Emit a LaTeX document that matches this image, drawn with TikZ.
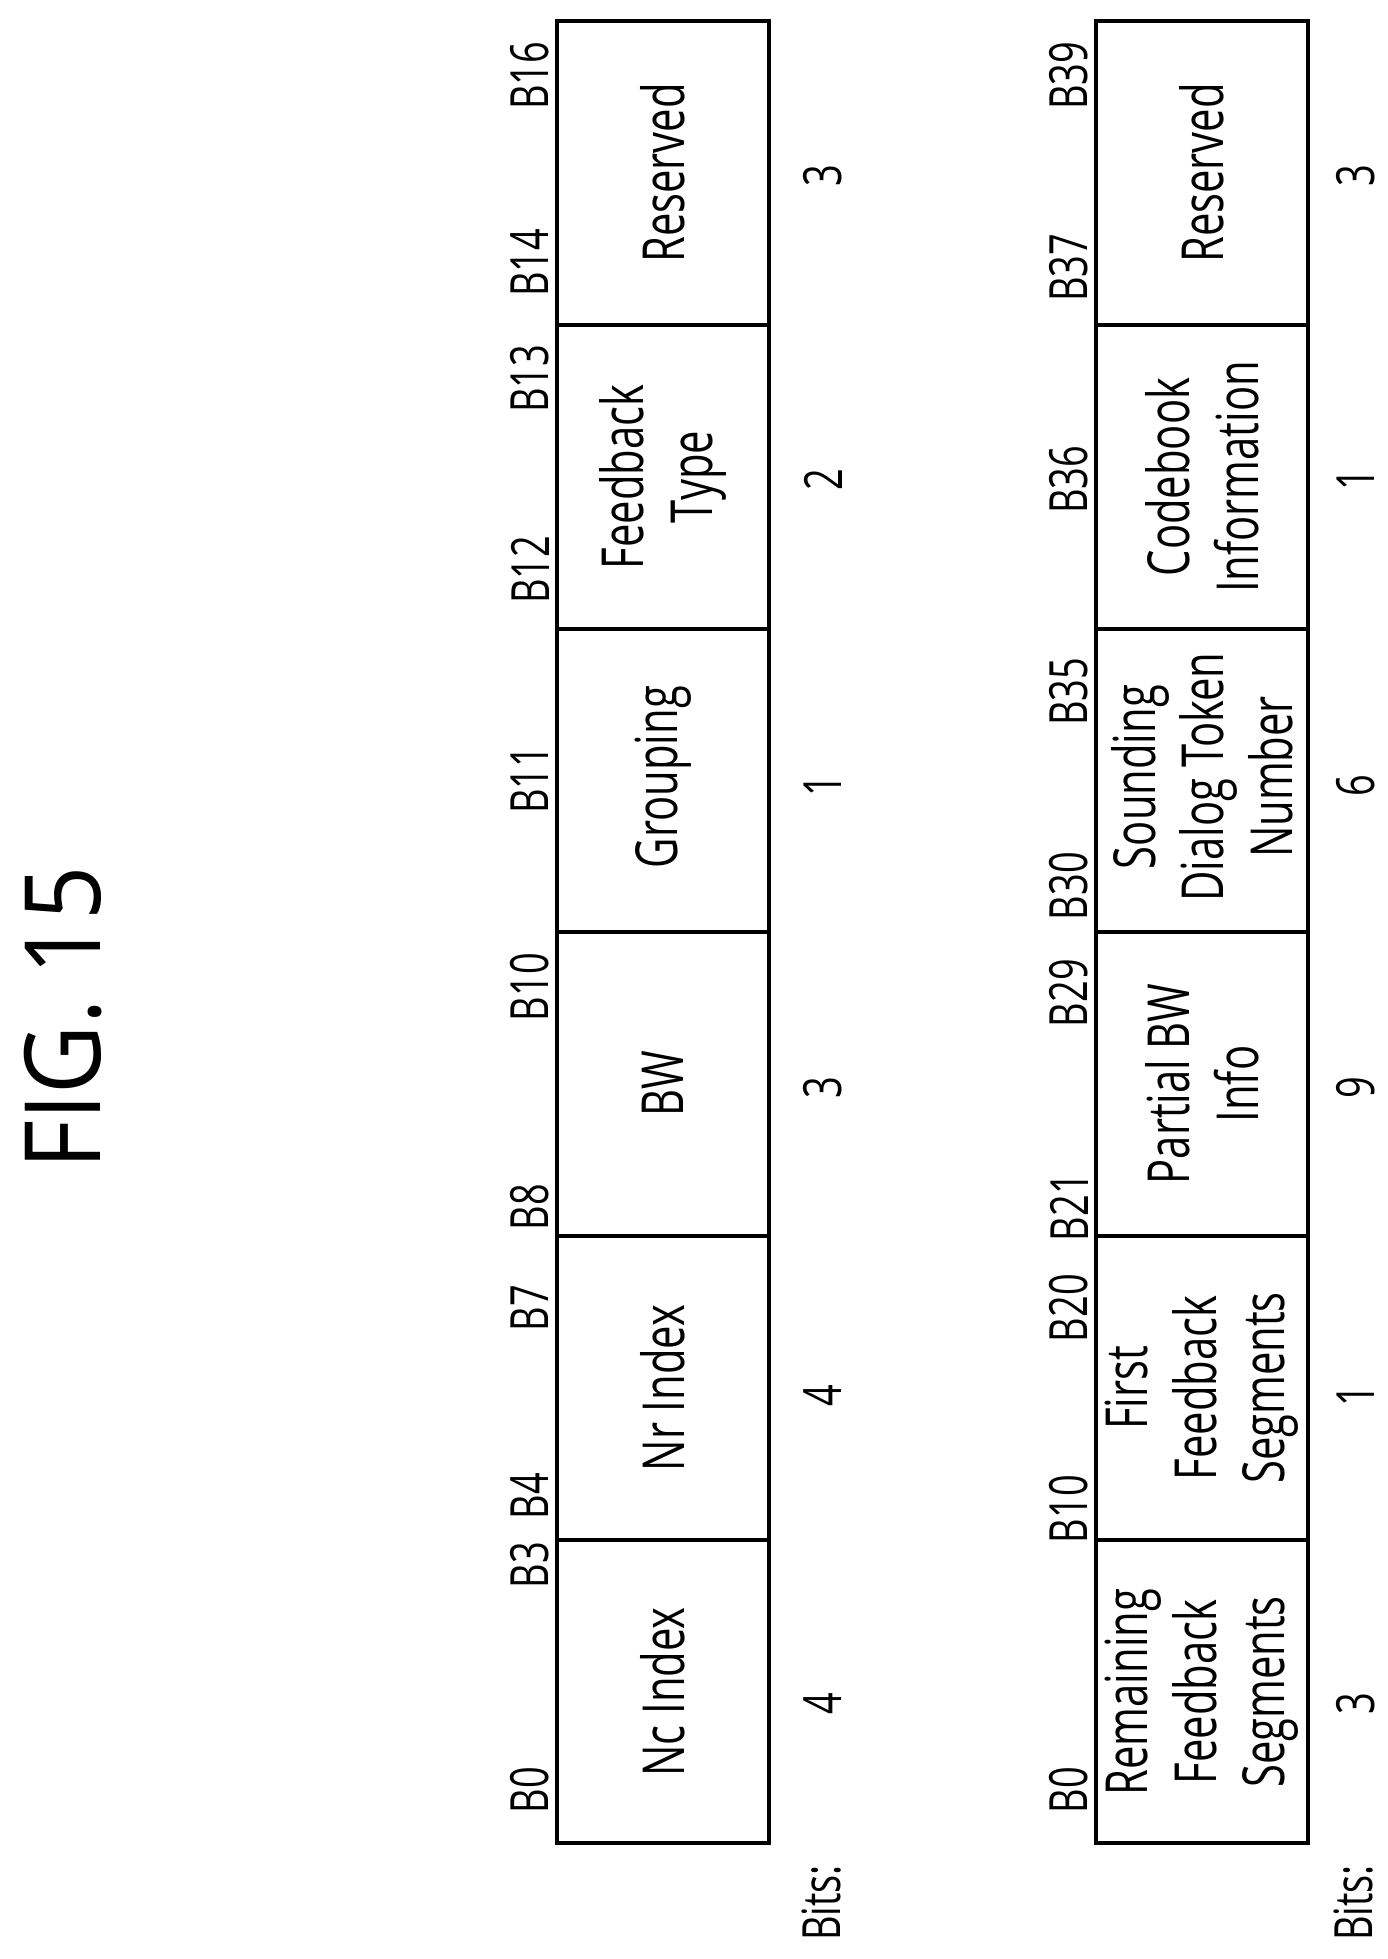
\documentclass[tikz,border=0pt]{standalone}
\usepackage{fontspec}
\setmainfont[FakeStretch=0.72]{Open Sans}
\newfontfamily\titlefont[FakeStretch=0.9]{Open Sans}
\usetikzlibrary{positioning}
\tikzset{
    %frame of a field table
    fieldbox/.style={draw=black, line width=2pt},
    %text inside a field
    field/.style={rotate=90, align=center, font=\fontsize{33}{39}\selectfont, inner sep=0pt},
    %bit labels and bit counts
    bitlbl/.style={rotate=90, font=\fontsize{30}{36}\selectfont, inner sep=0pt}
}
\begin{document}
\begin{tikzpicture}[x=0.02cm, y=-0.02cm]
\useasboundingbox (0,0) rectangle (1388,1959);
\node[rotate=90, font=\titlefont\fontsize{60}{72}\selectfont] (title) at (63,1018) {FIG. 15};

% first table
\draw[fieldbox] (557,21) rectangle (769,1843);
\foreach \y in {325,629,932,1236,1540}
  \draw[fieldbox] (557,\y) -- (769,\y);
\node[field] (nc) at (663,1692) {Nc Index};
\node[field] (nr) at (663,1388) {Nr Index};
\node[field] (bw) at (663,1084) {BW};
\node[field] (grp) at (663,777) {Grouping};
\node[field] (fbt) at (663,477) {Feedback\\Type};
\node[field] (res) at (663,173) {Reserved};
\foreach \lbl/\y in {B0/1790,B3/1565,B4/1496,B7/1308,B8/1207,B10/987,B11/780,B12/570,B13/379,B14/263,B16/76}
  \node[bitlbl] (ta\lbl) at (530,\y) {\lbl};
\foreach \n/\y [count=\i] in {4/1704,4/1396,3/1088,1/786,2/480,3/176}
  \node[bitlbl] (tan\i) at (823,\y) {\n};
\node[bitlbl] (bitsa) at (822,1903) {Bits:};

% second table
\draw[fieldbox] (1096,21) rectangle (1308,1843);
\foreach \y in {325,629,932,1236,1540}
  \draw[fieldbox] (1096,\y) -- (1308,\y);
\node[field] (rfs) at (1202,1692) {Remaining\\Feedback\\Segments};
\node[field] (ffs) at (1202,1388) {First\\Feedback\\Segments};
\node[field] (pbw) at (1202,1084) {Partial BW\\Info};
\node[field] (sdt) at (1202,777) {Sounding\\Dialog Token\\Number};
\node[field] (cbi) at (1202,477) {Codebook\\Information};
\node[field] (resb) at (1202,173) {Reserved};
\foreach \lbl/\y in {B0/1790,B10/1509,B20/1308,B21/1207,B29/993,B30/886,B35/692,B36/480,B37/268,B39/76}
  \node[bitlbl] (tb\lbl) at (1069,\y) {\lbl};
\foreach \n/\y [count=\i] in {3/1704,1/1396,9/1088,6/786,1/480,3/176}
  \node[bitlbl] (tbn\i) at (1356,\y) {\n};
\node[bitlbl] (bitsb) at (1354,1903) {Bits:};
\end{tikzpicture}
\end{document}
